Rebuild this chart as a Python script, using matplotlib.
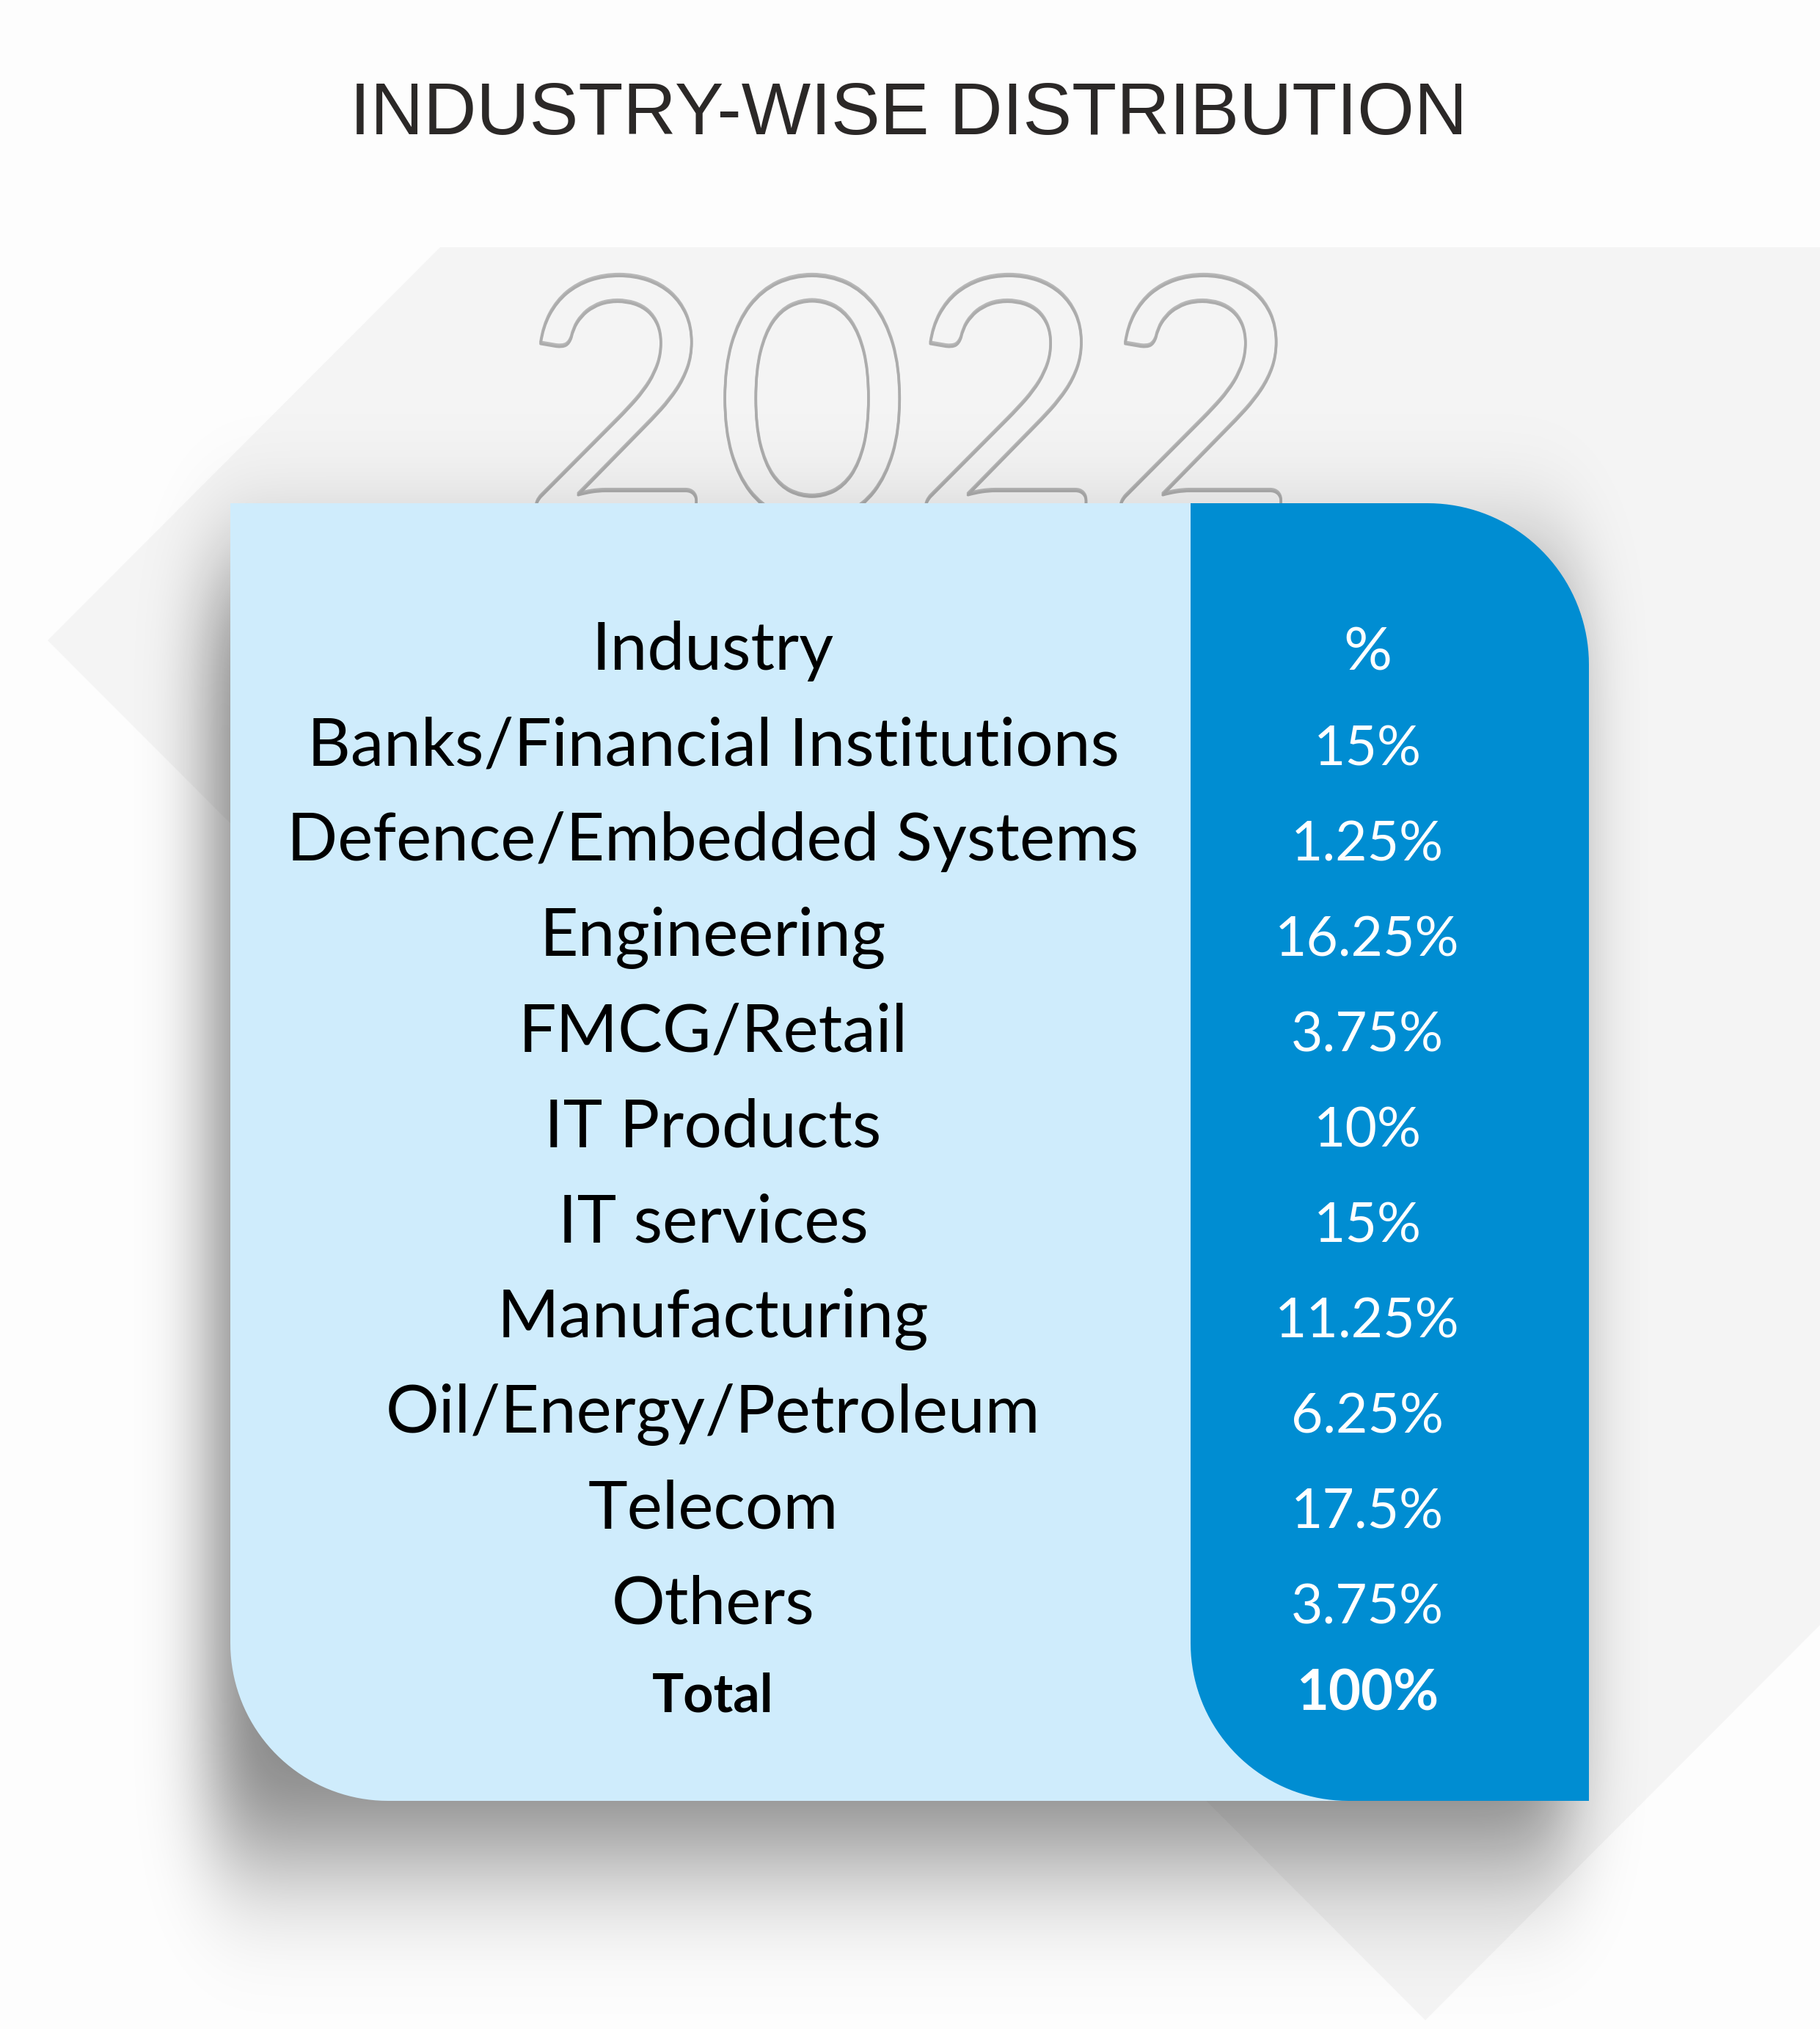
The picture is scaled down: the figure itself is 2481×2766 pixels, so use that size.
import math
import numpy as np
import matplotlib
matplotlib.use("Agg")
import matplotlib.pyplot as plt
from matplotlib.patches import Polygon
import matplotlib.patheffects as pe

# table data
title = "INDUSTRY-WISE DISTRIBUTION"
year = "2022"
col_headers = ["Industry", "%"]
industries = ["Banks/Financial Institutions", "Defence/Embedded Systems", "Engineering",
              "FMCG/Retail", "IT Products", "IT services", "Manufacturing",
              "Oil/Energy/Petroleum", "Telecom", "Others"]
shares = [15, 1.25, 16.25, 3.75, 10, 15, 11.25, 6.25, 17.5, 3.75]
total_label = "Total"
total_share = 100

W, H = 2481, 2766
PT = 100 / 72.0  # px per point

fig = plt.figure(figsize=(W / 100, H / 100), dpi=100, facecolor="#fdfdfd")
ax = fig.add_axes([0, 0, 1, 1])
ax.set_facecolor("#fdfdfd")


def rounded(x0, y0, x1, y1, tl=0, tr=0, br=0, bl=0, n=40):
    # y grows downward here
    pts = []
    for (cx, cy, r, a0) in [(x0 + tl, y0 + tl, tl, np.pi), (x1 - tr, y0 + tr, tr, 1.5 * np.pi),
                            (x1 - br, y1 - br, br, 0.0), (x0 + bl, y1 - bl, bl, 0.5 * np.pi)]:
        t = np.linspace(a0, a0 + 0.5 * np.pi, n)
        pts += list(zip(cx + r * np.cos(t), cy + r * np.sin(t)))
    return np.array(pts)


# gray diamond in the background
ax.add_patch(Polygon([(600, 337), (3286, 337), (3821, 873), (1943, 2754), (65, 873)],
                     closed=True, fc="#f4f4f4", ec="none", zorder=0))

# big outlined year
ax.text(1240, 708, year, fontsize=458 / PT, family="Lato", ha="center", va="baseline",
        color="none", zorder=1,
        path_effects=[pe.Stroke(linewidth=2.6, foreground="#b8b8b8", offset=(0, 1.8)),
                      pe.Stroke(linewidth=2.6, foreground="#acacac")])

# soft drop shadow under the card
erf = np.frompyfunc(math.erf, 1, 1)


def step(v, a, b, s):
    return (0.5 * (erf((v - a) / (math.sqrt(2) * s)) - erf((v - b) / (math.sqrt(2) * s)))).astype(float)


xs = np.arange(0, W, 2) + 1.0
ys = np.arange(0, H, 2) + 1.0
alpha = 0.48 * np.outer(step(ys, 780, 2530, 90), step(xs, 290, 2140, 45))
img = np.zeros((len(ys), len(xs), 4), dtype=np.float32)
img[..., 3] = alpha
ax.imshow(img, extent=(0, W, H, 0), origin="upper", zorder=2, interpolation="bilinear", aspect="auto")

# card: light left part and blue right column
ax.add_patch(Polygon(rounded(314, 686, 1900, 2455, bl=215), closed=True, fc="#cfecfc", ec="none", zorder=3))
ax.add_patch(Polygon(rounded(1623, 686, 2166, 2455, tr=220, bl=215), closed=True, fc="#008dd2", ec="none", zorder=4))

# title
ax.text(1239, 183, title, fontsize=100 / PT, family="Liberation Sans", color="#2b2827",
        ha="center", va="baseline")

# rows
left_x, right_x = 972, 1864
base0, step_y = 913, 130
left_fs, right_fs = 91 / PT, 75 / PT
ax.text(left_x, base0, col_headers[0], fontsize=left_fs, family="Lato", color="black",
        ha="center", va="baseline", zorder=5)
ax.text(right_x, base0, col_headers[1], fontsize=right_fs * 1.1, family="Lato", color="white",
        ha="center", va="baseline", zorder=5)
for i, (name, val) in enumerate(zip(industries, shares)):
    yb = base0 + step_y * (i + 1)
    ax.text(left_x, yb, name, fontsize=left_fs, family="Lato", color="black",
            ha="center", va="baseline", zorder=5)
    ax.text(right_x, yb, f"{val:g}%", fontsize=right_fs, family="Lato", color="white",
            ha="center", va="baseline", zorder=5)
ax.text(left_x, 2334, total_label, fontsize=72 / PT, family="Lato", weight="bold", color="black",
        ha="center", va="baseline", zorder=5)
ax.text(right_x, 2332, f"{total_share:g}%", fontsize=76 / PT, family="Lato", weight="bold", color="white",
        ha="center", va="baseline", zorder=5)

ax.set_xlim(0, W)
ax.set_ylim(H, 0)
ax.axis("off")
fig.savefig("out.png", dpi=100, facecolor=fig.get_facecolor())
